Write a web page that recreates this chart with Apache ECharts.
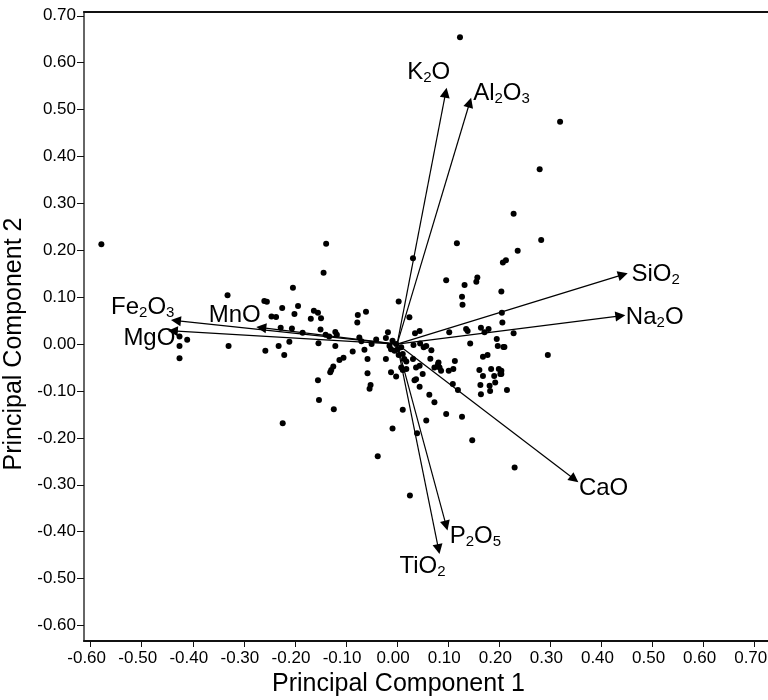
<!DOCTYPE html>
<html>
<head>
<meta charset="utf-8">
<script src="https://cdn.jsdelivr.net/npm/echarts@6/dist/echarts.min.js"></script>
<style>
  html, body { margin: 0; padding: 0; background: #fff; }
  #chart { width: 768px; height: 700px; }
</style>
</head>
<body>
<div id="chart"></div>
<script>
// tick labels (same for both axes)
var axisTicks = [-0.6, -0.5, -0.4, -0.3, -0.2, -0.1, 0, 0.1, 0.2, 0.3, 0.4, 0.5, 0.6, 0.7];

// loadings (arrow tips)
var loadingNames = ['K2O', 'Al2O3', 'SiO2', 'Na2O', 'CaO', 'P2O5', 'TiO2', 'Fe2O3', 'MgO', 'MnO'];
var loadingX = [0.095, 0.142, 0.442, 0.437, 0.347, 0.096, 0.081, -0.433, -0.439, -0.266];
var loadingY = [0.536, 0.515, 0.148, 0.060, -0.288, -0.387, -0.437, 0.050, 0.028, 0.035];

// sample scores
var scoreX = [
  -0.579, -0.332, -0.330, -0.426, -0.411, -0.426, -0.426,
  0.123, 0.319, 0.279, 0.228, 0.282, 0.236, 0.207, 0.213,
  0.204, 0.205, 0.206, 0.228, 0.208, 0.295, 0.204, 0.204, 0.215, 0.230,
  -0.139, -0.144, -0.204, -0.260, -0.255, -0.225, -0.194, -0.201, -0.246, -0.237,
  -0.169, -0.163, -0.155, -0.149, -0.228, -0.206, -0.185, -0.150,
  -0.140, -0.133, -0.121, -0.118, -0.211, -0.232, -0.258, -0.221, -0.154, -0.121,
  -0.077, -0.061, -0.078, -0.074, -0.070, -0.064, -0.050, -0.041, -0.087, -0.058,
  -0.105, -0.113, -0.125, -0.129, -0.131, -0.155, -0.153, -0.124, -0.224,
  -0.058, -0.052, -0.054, -0.022, 0.003, 0.024, 0.031, -0.018, -0.022,
  -0.015, -0.009, -0.002, -0.012, 0.001, 0.008, -0.005, 0.011, 0.003,
  0.014, 0.018, 0.008, 0.018, 0.011, -0.012, -0.002, 0.035, 0.044,
  0.032, 0.045, 0.052, 0.057, 0.067, 0.031, 0.037, 0.044, 0.050, 0.037, 0.034,
  0.044, 0.065, 0.073, 0.080, 0.083, 0.086, 0.081, 0.101, 0.110, 0.113,
  0.063, 0.073, 0.011, -0.009, 0.039, 0.057, 0.096, 0.127, 0.147, -0.038,
  0.109, 0.119, 0.102, 0.135, 0.138, 0.117, 0.096, 0.132, 0.155, 0.157,
  0.127, 0.128, 0.164, 0.179, 0.171, 0.143, 0.195, 0.197, 0.210,
  0.168, 0.177, 0.161, 0.168, 0.184, 0.190, 0.199, 0.202,
  0.163, 0.181, 0.192, 0.164, 0.182, 0.025
];
var scoreY = [
  0.213, 0.104, -0.004, 0.016, 0.009, -0.004, -0.030,
  0.654, 0.474, 0.373, 0.278, 0.222, 0.199, 0.174, 0.179,
  0.112, 0.067, 0.046, 0.023, -0.006, -0.023, -0.057, -0.064, -0.098, -0.263,
  0.214, 0.152, 0.120, 0.092, 0.090, 0.077, 0.081, 0.064, 0.059, 0.058,
  0.054, 0.071, 0.067, 0.055, 0.035, 0.033, 0.024, 0.031,
  0.020, 0.016, 0.026, 0.020, 0.005, -0.004, -0.014, -0.023, 0.002, -0.004,
  0.062, 0.069, 0.046, 0.014, 0.006, -0.012, 0.000, 0.010, -0.016, -0.032,
  -0.029, -0.034, -0.048, -0.055, -0.060, -0.077, -0.119, -0.139, -0.169,
  -0.062, -0.087, -0.095, -0.032, 0.091, 0.057, 0.183, 0.025, 0.013,
  -0.004, 0.007, 0.000, -0.011, -0.011, -0.007, -0.014, -0.021, -0.023,
  -0.032, -0.037, -0.050, -0.053, -0.055, -0.060, -0.069, 0.023, 0.028,
  -0.002, 0.001, -0.007, -0.004, -0.013, -0.032, -0.050, -0.046, -0.064, -0.075, -0.077,
  -0.091, -0.031, -0.050, -0.043, -0.050, -0.057, -0.039, -0.057, -0.053, -0.036,
  -0.108, -0.124, -0.140, -0.180, -0.190, -0.163, -0.149, -0.155, -0.205, -0.239,
  -0.085, -0.098, 0.025, 0.032, 0.028, 0.215, 0.136, 0.126, 0.133, 0.142,
  0.101, 0.084, 0.035, 0.032, 0.025, 0.001, 0.011, -0.004, -0.006,
  -0.027, -0.023, -0.055, -0.068, -0.053, -0.068, -0.053, -0.064,
  -0.087, -0.089, -0.082, -0.107, -0.100, -0.323
];

// label placement for each loading name
var labelPos = ['top', 'right', 'right', 'right', 'right', 'right', 'bottom', 'left', 'left', 'left'];
var labelOffset = [[-17, -2], [-2, -9], [3, 0], [0, 1], [-1, 9], [-2, 11], [-16, -1], [4, -13], [8, 7], [5, -12]];

var font = "'Liberation Sans', Arial, sans-serif";

function subName(n) {
    return n.replace(/(\d)/g, '{s|$1}');
}

var chart = echarts.init(document.getElementById('chart'));

var option = {
    backgroundColor: '#fff',
    animation: false,
    grid: {left: 84, right: 0, top: 12, bottom: 59, outerBoundsMode: 'none'},
    xAxis: [{
        type: 'value',
        min: -0.613,
        max: 0.726,
        name: 'Principal Component 1',
        nameLocation: 'middle',
        nameGap: 28,
        nameTextStyle: {fontFamily: font, fontSize: 25, color: '#000', padding: [0, 55, 0, 0]},
        axisLine: {onZero: false, lineStyle: {color: '#111', width: 2}},
        axisTick: {show: true, length: 6, customValues: axisTicks, lineStyle: {color: '#111', width: 1}},
        axisLabel: {
            customValues: axisTicks, margin: 9, fontFamily: font, fontSize: 17, color: '#000',
            padding: [0, 8, 0, 0],
            formatter: function (v) { return v.toFixed(2); }
        },
        splitLine: {show: false}
    }, {
        type: 'value',
        position: 'top',
        min: -0.613,
        max: 0.726,
        axisLine: {show: true, onZero: false, lineStyle: {color: '#111', width: 2}},
        axisTick: {show: false},
        axisLabel: {show: false},
        splitLine: {show: false}
    }],
    yAxis: {
        type: 'value',
        min: -0.633,
        max: 0.708,
        name: 'Principal Component 2',
        nameLocation: 'middle',
        nameGap: 50,
        nameTextStyle: {fontFamily: font, fontSize: 25, color: '#000', padding: [0, 35, 0, 0]},
        axisLine: {show: true, onZero: false, lineStyle: {color: '#666', width: 2}},
        axisTick: {show: true, length: 7, customValues: axisTicks, lineStyle: {color: '#111', width: 1}},
        axisLabel: {
            customValues: axisTicks, margin: 8, fontFamily: font, fontSize: 17, color: '#000',
            formatter: function (v) { return v.toFixed(2); }
        },
        splitLine: {show: false}
    },
    series: [{
        name: 'scores',
        type: 'scatter',
        symbol: 'circle',
        symbolSize: 6,
        itemStyle: {color: '#000', opacity: 1},
        data: scoreX.map(function (x, i) { return [x, scoreY[i]]; }),
        z: 2
    }, {
        name: 'loadings',
        type: 'lines',
        coordinateSystem: 'cartesian2d',
        symbol: ['none', 'triangle'],
        symbolSize: [0, 10],
        lineStyle: {color: '#000', width: 1.2, opacity: 1, curveness: 0},
        data: loadingNames.map(function (n, i) {
            return {name: n, coords: [[0, 0], [loadingX[i], loadingY[i]]]};
        }),
        silent: true,
        z: 3
    }, {
        name: 'loading labels',
        type: 'scatter',
        symbolSize: 1,
        itemStyle: {color: 'rgba(0,0,0,0)', opacity: 1},
        silent: true,
        data: loadingNames.map(function (n, i) {
            return {
                name: n,
                value: [loadingX[i], loadingY[i]],
                label: {position: labelPos[i], offset: labelOffset[i]}
            };
        }),
        label: {
            show: true,
            distance: 5,
            fontFamily: font,
            fontSize: 24,
            color: '#000',
            opacity: 1,
            lineHeight: 26,
            formatter: function (p) { return subName(p.name); },
            rich: {
                s: {fontFamily: font, fontSize: 15, color: '#000', lineHeight: 17, verticalAlign: 'bottom'}
            }
        },
        z: 4
    }]
};

chart.setOption(option);
</script>
</body>
</html>
